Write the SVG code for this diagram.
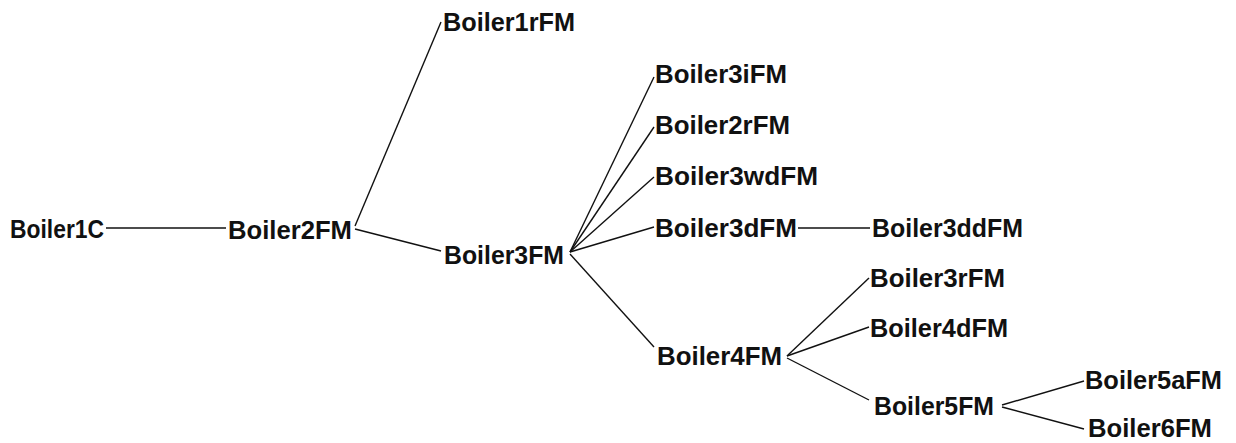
<svg xmlns="http://www.w3.org/2000/svg" width="1236" height="443" viewBox="0 0 1236 443">
<style>
.n text{font-family:"Liberation Sans",Arial,sans-serif;font-weight:bold;font-size:26.5px;fill:#111}
.c line{stroke:#111;stroke-width:1.4}
</style>
<rect width="1236" height="443" fill="#fff"/>
<g class="c" id="connectors">
<line x1="106" y1="228" x2="226" y2="228"/>
<line x1="355" y1="226" x2="441" y2="22"/>
<line x1="355" y1="229" x2="441" y2="251"/>
<line x1="570" y1="252" x2="654" y2="77"/>
<line x1="570" y1="252" x2="654" y2="127"/>
<line x1="570" y1="252" x2="654" y2="177"/>
<line x1="570" y1="252" x2="654" y2="227"/>
<line x1="570" y1="254" x2="654" y2="347"/>
<line x1="798" y1="228" x2="870" y2="228"/>
<line x1="787" y1="356" x2="869" y2="278"/>
<line x1="787" y1="356" x2="869" y2="327"/>
<line x1="787" y1="358" x2="869" y2="400"/>
<line x1="1002" y1="405" x2="1084" y2="381"/>
<line x1="1002" y1="407" x2="1084" y2="429"/>
</g>
<g class="n" id="Boiler1C"><text x="10" y="238" textLength="94" lengthAdjust="spacingAndGlyphs">Boiler1C</text></g>
<g class="n" id="Boiler2FM"><text x="228" y="239" textLength="124" lengthAdjust="spacingAndGlyphs">Boiler2FM</text></g>
<g class="n" id="Boiler1rFM"><text x="443" y="31" textLength="132" lengthAdjust="spacingAndGlyphs">Boiler1rFM</text></g>
<g class="n" id="Boiler3FM"><text x="444" y="264" textLength="120" lengthAdjust="spacingAndGlyphs">Boiler3FM</text></g>
<g class="n" id="Boiler3iFM"><text x="655" y="83" textLength="132" lengthAdjust="spacingAndGlyphs">Boiler3iFM</text></g>
<g class="n" id="Boiler2rFM"><text x="655" y="134" textLength="135" lengthAdjust="spacingAndGlyphs">Boiler2rFM</text></g>
<g class="n" id="Boiler3wdFM"><text x="655" y="185" textLength="163" lengthAdjust="spacingAndGlyphs">Boiler3wdFM</text></g>
<g class="n" id="Boiler3dFM"><text x="655" y="237" textLength="142" lengthAdjust="spacingAndGlyphs">Boiler3dFM</text></g>
<g class="n" id="Boiler3ddFM"><text x="872" y="237" textLength="151" lengthAdjust="spacingAndGlyphs">Boiler3ddFM</text></g>
<g class="n" id="Boiler3rFM"><text x="870" y="287" textLength="135" lengthAdjust="spacingAndGlyphs">Boiler3rFM</text></g>
<g class="n" id="Boiler4dFM"><text x="870" y="337" textLength="138" lengthAdjust="spacingAndGlyphs">Boiler4dFM</text></g>
<g class="n" id="Boiler4FM"><text x="657" y="365" textLength="125" lengthAdjust="spacingAndGlyphs">Boiler4FM</text></g>
<g class="n" id="Boiler5FM"><text x="874" y="415" textLength="120" lengthAdjust="spacingAndGlyphs">Boiler5FM</text></g>
<g class="n" id="Boiler5aFM"><text x="1085" y="389" textLength="137" lengthAdjust="spacingAndGlyphs">Boiler5aFM</text></g>
<g class="n" id="Boiler6FM"><text x="1088" y="437" textLength="124" lengthAdjust="spacingAndGlyphs">Boiler6FM</text></g>
</svg>
